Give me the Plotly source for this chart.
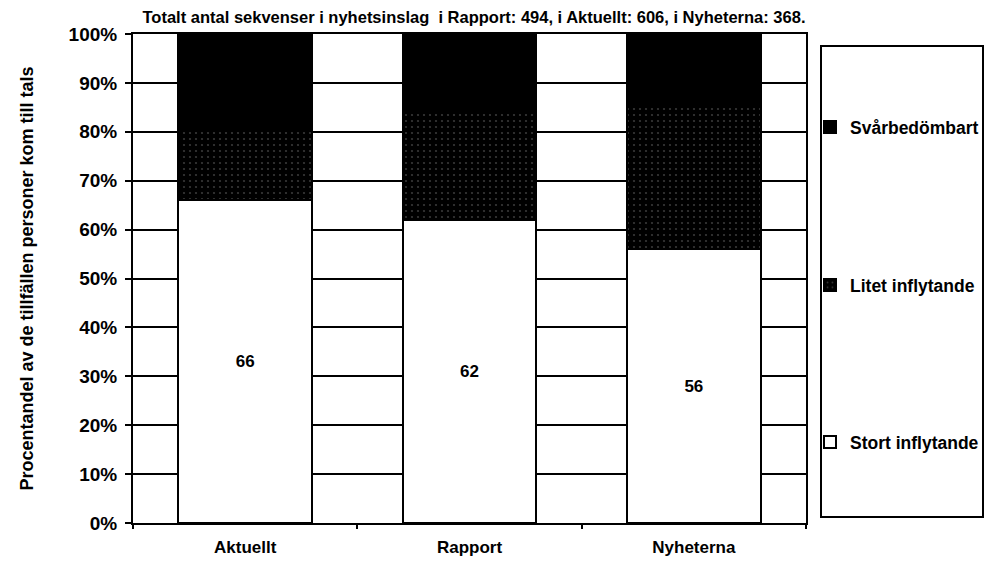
import plotly.graph_objects as go

categories = ["Aktuellt", "Rapport", "Nyheterna"]
stort = [66, 62, 56]
litet = [15, 22, 29]
svar = [19, 16, 15]
y_ticks = list(range(0, 101, 10))
y_ticktext = [f"{v}%" for v in y_ticks]
title_text = "Totalt antal sekvenser i nyhetsinslag  i Rapport: 494, i Aktuellt: 606, i Nyheterna: 368."
y_title = "Procentandel av de tillfällen personer kom till tals"

FONT = "Liberation Sans, Arial, sans-serif"
# page has an 8px body margin; keep the figure small enough that nothing scrolls
OFF = 8
W, H = 977, 553
L, R, T, B = 125, 179, 26, 38
pw, ph = W - L - R, H - T - B


def px_x(x):
    return (x - OFF - L) / pw


def px_y(y):
    return (H - B - (y - OFF)) / ph


fig = go.Figure()
fig.add_trace(go.Bar(
    x=categories, y=stort, name="Stort inflytande", legend="legend3",
    marker=dict(color="white", line=dict(color="black", width=2)),
    text=stort, textposition="inside", insidetextanchor="middle", textangle=0,
    textfont=dict(family=FONT, size=17, color="black", weight="bold"),
))
fig.add_trace(go.Bar(
    x=categories, y=litet, name="Litet inflytande", legend="legend2",
    marker=dict(color="black", line=dict(color="black", width=2),
                pattern=dict(shape=".", fillmode="overlay", fgcolor="#707070",
                             size=6, solidity=0.1)),
))
fig.add_trace(go.Bar(
    x=categories, y=svar, name="Svårbedömbart", legend="legend",
    marker=dict(color="black", line=dict(color="black", width=2)),
))

leg_common = dict(xanchor="left", yanchor="middle", bgcolor="rgba(0,0,0,0)",
                  borderwidth=0, font=dict(family=FONT, size=17.5, color="black", weight="bold"))

fig.update_layout(
    width=W, height=H,
    margin=dict(l=L, r=R, t=T, b=B, autoexpand=False),
    paper_bgcolor="white", plot_bgcolor="white",
    barmode="stack", bargap=0.405,
    font=dict(family=FONT, color="black"),
    showlegend=True,
    title=dict(text=title_text, xref="container", yref="container",
               x=(474 - OFF) / W, y=1 - (17 - OFF) / H, xanchor="center", yanchor="middle",
               font=dict(family=FONT, size=16.5, color="black", weight="bold")),
    legend=dict(x=px_x(810), y=px_y(127), **leg_common),
    legend2=dict(x=px_x(810), y=px_y(285), **leg_common),
    legend3=dict(x=px_x(810), y=px_y(442), **leg_common),
    shapes=[dict(type="rect", xref="paper", yref="paper",
                 x0=px_x(821), x1=px_x(983), y0=px_y(517), y1=px_y(46),
                 line=dict(color="black", width=2), fillcolor="rgba(0,0,0,0)")],
)

fig.update_xaxes(
    showline=True, linecolor="black", linewidth=2, mirror=True,
    ticks="outside", tickson="boundaries", ticklen=4, tickcolor="black", tickwidth=2,
    showgrid=False, ticklabelstandoff=8,
    tickfont=dict(family=FONT, size=17, color="black", weight="bold"),
)
fig.update_yaxes(
    range=[0, 100], tickvals=y_ticks, ticktext=y_ticktext,
    showline=True, linecolor="black", linewidth=2, mirror=True,
    ticks="outside", ticklen=6, tickcolor="black", tickwidth=2,
    showgrid=True, gridcolor="black", gridwidth=2, zeroline=False,
    ticklabelstandoff=4,
    tickfont=dict(family=FONT, size=19, color="black", weight="bold"),
    title=dict(text=y_title, standoff=30,
               font=dict(family=FONT, size=18, color="black", weight="bold")),
)

fig.write_html("out.html")
